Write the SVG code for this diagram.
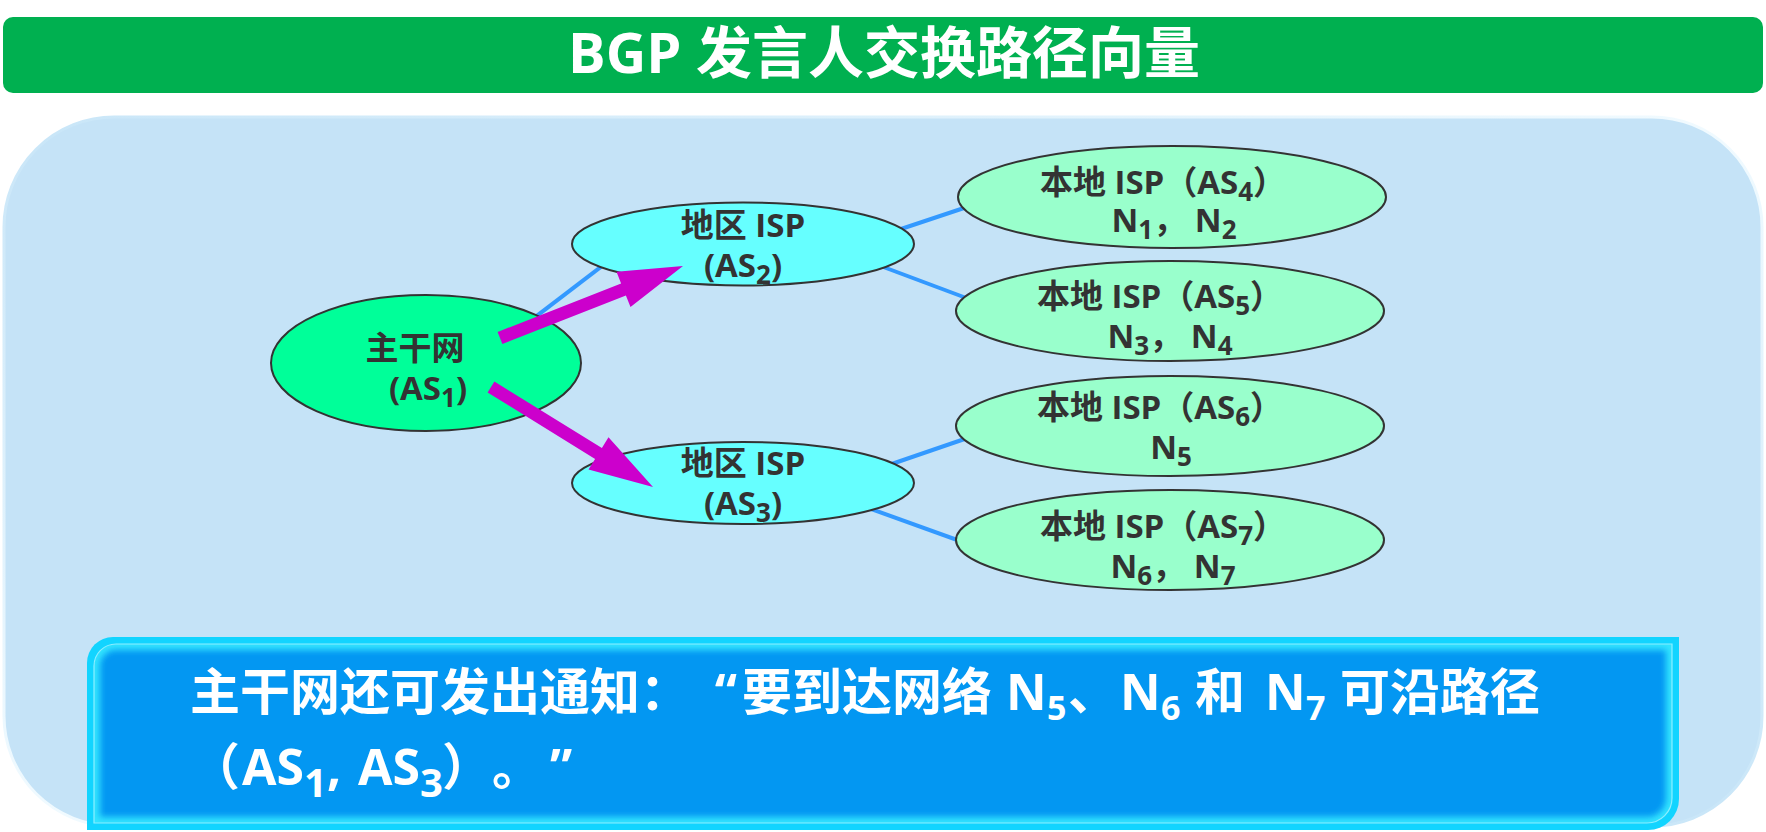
<svg xmlns="http://www.w3.org/2000/svg" width="1766" height="832" viewBox="0 0 1766 832">
  <style>
    .cjk { font-family: 'Open Sans', 'Noto Sans CJK SC', sans-serif; font-weight: bold; }
    .lbl { font-size: 33px; fill: #333333; text-anchor: middle; }
    .sub { font-size: 26px; }
    .ell { stroke: #333333; stroke-width: 2; }
    .core { fill: #00FF99; }
    .region { fill: #66FFFF; }
    .local { fill: #99FFCC; }
    .link { stroke: #3399FF; stroke-width: 4; fill: none; }
    .announce { fill: #CC00CC; }
    .note { font-size: 50px; fill: #FFFFFF; }
  </style>
  <defs>
    <clipPath id="noteInner">
      <path d="M94,823 V666 A22,22 0 0 1 116,644 H1672 V798 A25,25 0 0 1 1647,823 Z"/>
    </clipPath>
    <filter id="soft" x="-5%" y="-20%" width="110%" height="140%">
      <feGaussianBlur stdDeviation="3"/>
    </filter>
    <linearGradient id="panelEdge" x1="0" y1="1" x2="1" y2="0">
      <stop offset="0" stop-color="#F2FBFF"/>
      <stop offset="0.5" stop-color="#C9E6F8"/>
      <stop offset="1" stop-color="#F2FBFF"/>
    </linearGradient>
  </defs>

  <!-- header bar -->
  <g id="title">
    <rect x="3" y="17" width="1760" height="76" rx="10" fill="#00B050"/>
    <text class="cjk" x="884" y="73" font-size="56" fill="#FFFFFF" text-anchor="middle">BGP 发言人交换路径向量</text>
  </g>

  <!-- background panel -->
  <g id="panel">
    <rect x="4" y="117" width="1758" height="709" rx="110" fill="#C5E3F7" stroke="url(#panelEdge)" stroke-width="3"/>
  </g>

  <!-- links between autonomous systems -->
  <g id="connectors">
    <line class="link" x1="500" y1="344" x2="640" y2="237"/>
    <line class="link" x1="880" y1="236" x2="985" y2="201"/>
    <line class="link" x1="870" y1="262" x2="985" y2="305"/>
    <line class="link" x1="880" y1="468" x2="985" y2="432"/>
    <line class="link" x1="860" y1="505" x2="985" y2="550"/>
  </g>

  <g id="as1">
    <ellipse class="ell core" cx="426" cy="363" rx="155" ry="68"/>
    <text class="cjk lbl" x="415" y="360">主干网</text>
    <text class="cjk lbl" x="428" y="400">(AS<tspan class="sub" dy="7">1</tspan><tspan dy="-7">)</tspan></text>
  </g>

  <g id="as2">
    <ellipse class="ell region" cx="743" cy="244" rx="171" ry="41.5"/>
    <text class="cjk lbl" x="743" y="237">地区 ISP</text>
    <text class="cjk lbl" x="743" y="277">(AS<tspan class="sub" dy="7">2</tspan><tspan dy="-7">)</tspan></text>
  </g>

  <g id="as3">
    <ellipse class="ell region" cx="743" cy="483" rx="171" ry="41"/>
    <text class="cjk lbl" x="743" y="475">地区 ISP</text>
    <text class="cjk lbl" x="743" y="515">(AS<tspan class="sub" dy="7">3</tspan><tspan dy="-7">)</tspan></text>
  </g>

  <g id="as4">
    <ellipse class="ell local" cx="1172" cy="197" rx="214" ry="51"/>
    <text class="cjk lbl" x="1163" y="194">本地 ISP（AS<tspan class="sub" dy="7">4</tspan><tspan dy="-7">）</tspan></text>
    <text class="cjk lbl" x="1174" y="232">N<tspan class="sub" dy="7">1</tspan><tspan dy="-7">， N</tspan><tspan class="sub" dy="7">2</tspan></text>
  </g>

  <g id="as5">
    <ellipse class="ell local" cx="1170" cy="311" rx="214" ry="50"/>
    <text class="cjk lbl" x="1160" y="308">本地 ISP（AS<tspan class="sub" dy="7">5</tspan><tspan dy="-7">）</tspan></text>
    <text class="cjk lbl" x="1170" y="348">N<tspan class="sub" dy="7">3</tspan><tspan dy="-7">， N</tspan><tspan class="sub" dy="7">4</tspan></text>
  </g>

  <g id="as6">
    <ellipse class="ell local" cx="1170" cy="426" rx="214" ry="50"/>
    <text class="cjk lbl" x="1160" y="419">本地 ISP（AS<tspan class="sub" dy="7">6</tspan><tspan dy="-7">）</tspan></text>
    <text class="cjk lbl" x="1171" y="459">N<tspan class="sub" dy="7">5</tspan></text>
  </g>

  <g id="as7">
    <ellipse class="ell local" cx="1170" cy="540" rx="214" ry="50"/>
    <text class="cjk lbl" x="1163" y="538">本地 ISP（AS<tspan class="sub" dy="7">7</tspan><tspan dy="-7">）</tspan></text>
    <text class="cjk lbl" x="1173" y="578">N<tspan class="sub" dy="7">6</tspan><tspan dy="-7">， N</tspan><tspan class="sub" dy="7">7</tspan></text>
  </g>

  <!-- path-vector announcements sent by the backbone -->
  <g id="announcements">
    <polygon class="announce" points="502.4,344 497.6,332 621.1,283.4 616.5,271.7 683,266 630.5,307.1 625.9,295.4"/>
    <polygon class="announce" points="487.6,392.5 494.4,381.5 601.9,447.9 608.5,437.2 653,487 588.5,469.6 595.1,458.9"/>
  </g>

  <!-- notice box -->
  <g id="notice">
    <path d="M87,830 V663 A26,26 0 0 1 113,637 H1679 V799 A31,31 0 0 1 1648,830 Z" fill="#12D4FF"/>
    <path d="M94,823 V666 A22,22 0 0 1 116,644 H1672 V798 A25,25 0 0 1 1647,823 Z" fill="#0397F2"/>
    <g clip-path="url(#noteInner)">
      <path d="M94,823 V666 A22,22 0 0 1 116,644 H1672 V798 A25,25 0 0 1 1647,823 Z" fill="none" stroke="#33E4FF" stroke-width="12" filter="url(#soft)"/>
    </g>
    <path d="M94,823 V666 A22,22 0 0 1 116,644 H1672 V798 A25,25 0 0 1 1647,823 Z" fill="none" stroke="#8CEEFF" stroke-width="1.2"/>
    <text class="cjk note">
      <tspan x="190" y="710">主干网还可发出通知：</tspan>
      <tspan x="742" y="710">要到达网络</tspan>
      <tspan x="1006" y="710">N</tspan><tspan x="1047" y="720" font-size="34">5</tspan>
      <tspan x="1068" y="710">、</tspan>
      <tspan x="1120" y="710">N</tspan><tspan x="1161" y="720" font-size="34">6</tspan>
      <tspan x="1195" y="710">和</tspan>
      <tspan x="1265" y="710">N</tspan><tspan x="1306" y="720" font-size="34">7</tspan>
      <tspan x="1340" y="710">可沿路径</tspan>
    </text>
    <text class="cjk note" x="737" y="710" text-anchor="end">“</text>
    <text class="cjk note">
      <tspan x="190" y="785">（</tspan>
      <tspan x="242" y="785">AS</tspan><tspan dy="12" font-size="40">1</tspan><tspan dy="-12">,</tspan>
      <tspan x="358" y="785">AS</tspan><tspan dy="12" font-size="40">3</tspan>
      <tspan x="442" y="785">）</tspan>
      <tspan x="492" y="785">。</tspan>
      <tspan x="550" y="785">”</tspan>
    </text>
  </g>
</svg>
